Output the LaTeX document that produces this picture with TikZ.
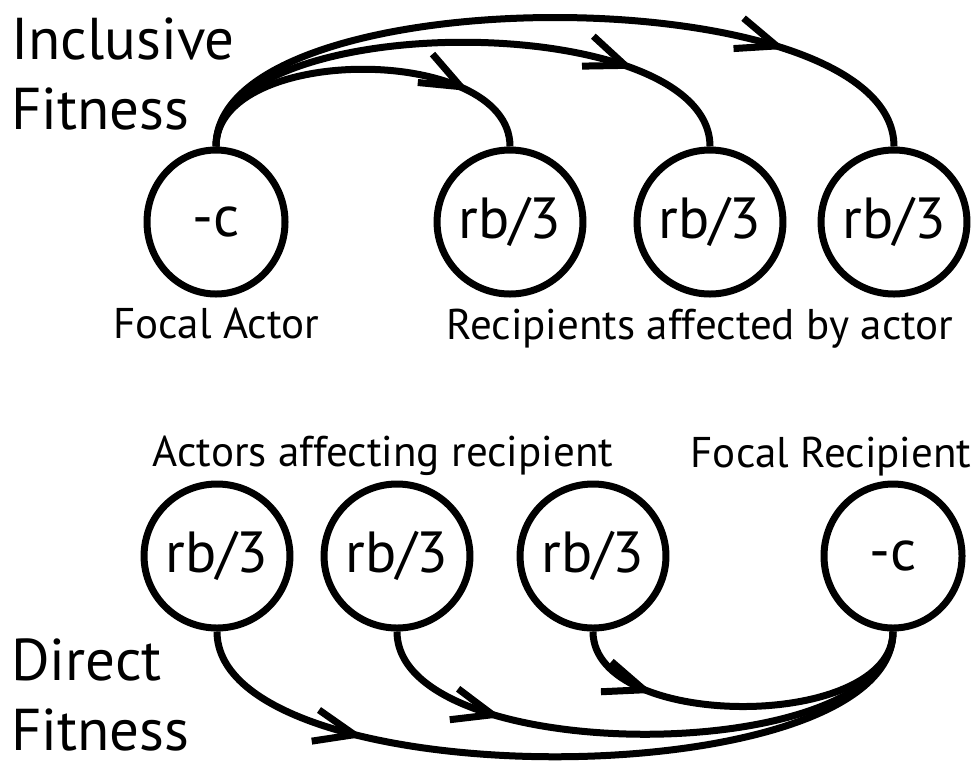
\documentclass[tikz,border=0pt]{standalone}
\usepackage{fontspec}
\setmainfont{PT Sans}
\usepackage{tikz}
\usetikzlibrary{arrows.meta, positioning, shapes.geometric, decorations.markings}

\begin{document}
\begin{tikzpicture}[
    x=0.5pt, y=-0.5pt,
    agent/.style={ellipse, draw, line width=3.5pt, minimum width=69pt, minimum height=72pt, inner sep=0pt, font=\fontsize{29}{34}\selectfont},
    caption/.style={inner sep=0pt, font=\fontsize{21.5}{26}\selectfont},
    title/.style={inner sep=0pt, anchor=west, align=left, font=\fontsize{29.5}{35}\selectfont},
    link/.style={line width=3.5pt},
    fwd/.style={decoration={markings, mark=at position #1 with {\arrow{Straight Barb[length=20pt, width=16pt]}}}, postaction={decorate}}
]
\useasboundingbox (0,0) rectangle (977,761);

% Inclusive fitness: one actor, three recipients
\node[title] (inc) at (11,74) {Inclusive\\Fitness};
\node[agent] (fa) at (216,222) {-c};
\node[agent] (r1) at (510,222) {rb/3};
\node[agent] (r2) at (710,222) {rb/3};
\node[agent] (r3) at (894,222) {rb/3};
\node[caption, below=5pt of fa] (fal) {Focal Actor};
\node[caption, below=5.5pt of r2, xshift=-5pt] (rl) {Recipients affected by actor};

% Direct fitness: three actors, one recipient
\node[title] (dir) at (11,695) {Direct\\Fitness};
\node[agent] (a1) at (217,556) {rb/3};
\node[agent] (a2) at (397,556) {rb/3};
\node[agent] (a3) at (593,556) {rb/3};
\node[agent] (fr) at (893,556) {-c};
\node[caption, above=2pt of a2, xshift=-7pt] (al) {Actors affecting recipient};
\node[caption, above=2pt of fr, xshift=-31pt] (frl) {Focal Recipient};

% Arrows
\draw[link, fwd=0.8] (fa.north) .. controls +(0,-103) and +(0,-103) .. (r1.north);
\draw[link, fwd=0.8] (fa.north) .. controls +(0,-139) and +(0,-139) .. (r2.north);
\draw[link, fwd=0.8] (fa.north) .. controls +(0,-172) and +(0,-172) .. (r3.north);
\draw[link, fwd=0.25] (a1.south) .. controls +(0,167) and +(0,167) .. (fr.south);
\draw[link, fwd=0.25] (a2.south) .. controls +(0,137) and +(0,137) .. (fr.south);
\draw[link, fwd=0.25] (a3.south) .. controls +(0,100) and +(0,100) .. (fr.south);
\end{tikzpicture}
\end{document}
